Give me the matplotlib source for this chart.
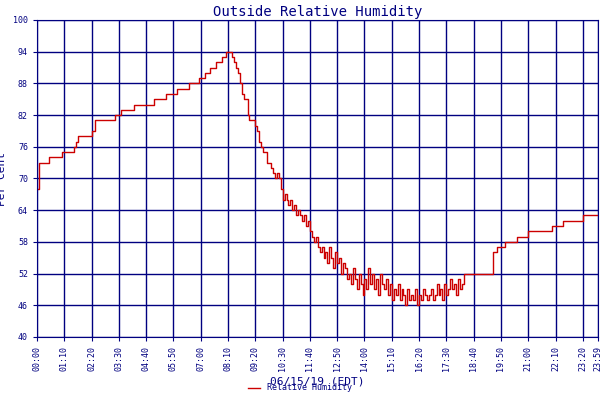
import matplotlib
matplotlib.use("Agg")
import matplotlib.pyplot as plt

readings = [(0,68),(4,73),(30,74),(65,75),(95,76),(100,77),(105,78),(140,79),(150,81),(200,82),(215,83),(250,84),(300,85),(330,86),(360,87),(390,88),(415,89),(430,90),(445,91),(460,92),(475,93),(485,94),(500,93),(505,92),(510,91),(515,90),(520,88),(525,86),(530,85),(540,82),(545,81),(560,80),(565,79),(570,77),(575,76),(580,75),(590,73),(600,72),(605,71),(610,70),(615,71),(620,70),(625,68),(630,66),(635,67),(640,66),(645,65),(650,66),(655,64),(660,65),(665,63),(670,64),(675,63),(680,62),(685,63),(690,61),(695,62),(700,60),(705,59),(710,58),(715,59),(720,57),(725,56),(730,57),(735,55),(740,56),(745,54),(750,57),(755,55),(760,53),(765,56),(770,54),(775,55),(780,52),(785,54),(790,53),(795,51),(800,52),(805,50),(810,53),(815,51),(820,49),(825,52),(830,50),(835,48),(840,51),(845,49),(850,53),(855,50),(860,52),(865,49),(870,51),(875,48),(880,52),(885,50),(890,49),(895,51),(900,48),(905,50),(910,47),(915,49),(920,48),(925,50),(930,47),(935,49),(940,48),(945,46),(950,49),(955,47),(960,48),(965,47),(970,49),(975,46),(980,48),(985,47),(990,49),(995,48),(1000,47),(1005,48),(1010,49),(1015,47),(1020,48),(1025,50),(1030,48),(1035,49),(1040,47),(1045,50),(1050,48),(1055,49),(1060,51),(1065,49),(1070,50),(1075,48),(1080,51),(1085,49),(1090,50),(1095,52),(1110,52),(1165,52),(1170,56),(1180,57),(1200,58),(1230,59),(1260,60),(1320,61),(1350,62),(1400,63),(1439,63)]
minutes = [m for m, _ in readings]
humidity = [h for _, h in readings]
xticks = list(range(0, 1439, 70)) + [1439]
xlabels = ["%02d:%02d" % (m // 60, m % 60) for m in xticks]
yticks = list(range(40, 101, 6))

navy = "#000080"
plt.rcParams['font.family'] = ['DejaVu Sans Mono']
fig = plt.figure(figsize=(6, 4), dpi=100)
ax = fig.add_axes([37/600, 63/400, 561/600, 317/400])
ax.step(minutes, humidity, where='post', color='#cc0000', lw=1, label='Relative Humidity')
ax.set_xlim(0, 1439)
ax.set_ylim(40, 100)
ax.set_xticks(xticks)
ax.set_xticklabels(xlabels, rotation=90, fontsize=6, color=navy)
ax.set_yticks(yticks)
ax.set_yticklabels([str(v) for v in yticks], fontsize=6, color=navy)
ax.grid(True, color=navy, lw=1)
for s in ax.spines.values():
    s.set_color(navy)
ax.tick_params(colors=navy, length=3)
ax.set_title("Outside Relative Humidity", color=navy, fontsize=10, pad=3)
ax.set_ylabel("Per Cent", color=navy, fontsize=8)
ax.set_xlabel("06/15/19 (EDT)", color=navy, fontsize=8, labelpad=4)
fig.legend(loc='lower center', bbox_to_anchor=(0.5, 0.0), frameon=False, fontsize=6, labelcolor=navy, handlelength=1.5)
fig.savefig("out.png", dpi=100)
